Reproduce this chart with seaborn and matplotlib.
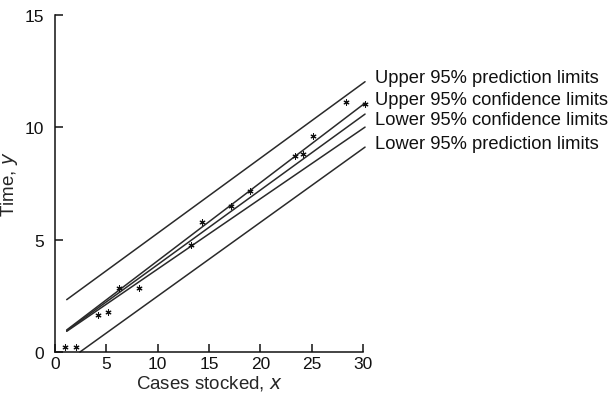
import matplotlib
matplotlib.use("Agg")
import matplotlib.pyplot as plt
import seaborn as sns
import pandas as pd

# Observed data (cases stocked, time)
cases = [1.0, 2.0, 4.2, 5.2, 6.2, 8.2, 13.2, 14.3, 17.1, 19.0, 23.4, 24.2, 25.1, 28.3, 30.2]
times = [0.21, 0.21, 1.65, 1.79, 2.83, 2.83, 4.76, 5.80, 6.51, 7.18, 8.74, 8.81, 9.63, 11.11, 11.04]

# Band lines: start/end x and y values
band_x = [1.14, 30.2]
upper_pred = [2.33, 12.03]
upper_conf = [0.98, 11.08]
fitted = [0.95, 10.59]
lower_conf = [0.92, 10.01]
lower_pred_x = [2.43, 30.2]
lower_pred = [0.0, 9.12]

labels = ["Upper 95% prediction limits",
          "Upper 95% confidence limits",
          "Lower 95% confidence limits",
          "Lower 95% prediction limits"]
label_y = [12.24, 11.26, 10.37, 9.26]

sns.set_style("ticks")
plt.rcParams['font.family'] = ['Liberation Sans', 'DejaVu Sans']

fig = plt.figure(figsize=(6.14, 4.02), dpi=100)
ax = fig.add_axes([55/614, 1-353/402, (363-55)/614, (353-16)/402])

lc = "#2a2a2a"
for ys in [upper_pred, upper_conf, fitted, lower_conf]:
    df = pd.DataFrame({"x": band_x, "y": ys})
    sns.lineplot(data=df, x="x", y="y", ax=ax, color=lc, lw=1.1)
df = pd.DataFrame({"x": lower_pred_x, "y": lower_pred})
sns.lineplot(data=df, x="x", y="y", ax=ax, color=lc, lw=1.1)
for ln in ax.lines:
    ln.set_clip_on(False)

pts = pd.DataFrame({"x": cases, "y": times})
sns.scatterplot(data=pts, x="x", y="y", ax=ax, marker=(6, 2, 0), s=14,
                color="#111111", linewidth=0.8, edgecolor="#111111", zorder=5,
                clip_on=False)

for lab, yy in zip(labels, label_y):
    ax.text(31.2, yy, lab, fontsize=13.2, va="center", ha="left", color="#111111",
            clip_on=False)

ax.set_xlim(0, 30)
ax.set_ylim(0, 15)
ax.set_xticks([0, 5, 10, 15, 20, 25, 30])
ax.set_yticks([0, 5, 10, 15])
ax.tick_params(direction="in", length=6, width=1.1, labelsize=12.5, colors="#111111")
ax.tick_params(axis="y", pad=8)
ax.tick_params(axis="x", pad=3)
sns.despine(ax=ax)
for s in ["left", "bottom"]:
    ax.spines[s].set_linewidth(1.1)
    ax.spines[s].set_color("#111111")

ax.set_xlabel("Cases stocked, $\\mathit{x}$", fontsize=13.5, labelpad=1)
ax.set_ylabel("Time, $\\mathit{y}$", fontsize=13.5, labelpad=3)

fig.savefig("out.png", dpi=100, facecolor="white")
